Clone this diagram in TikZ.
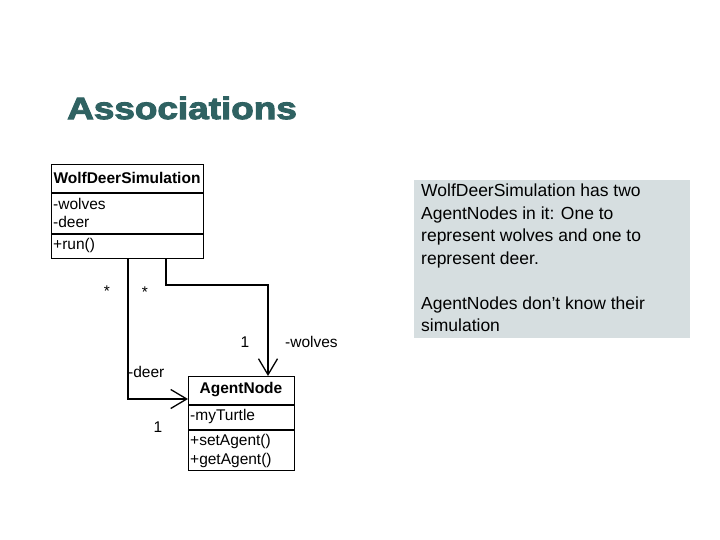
\documentclass[tikz,border=0pt]{standalone}
\usepackage{fontspec}
\setmainfont{Liberation Sans}
\newfontfamily\titlefont{Liberation Sans}[BoldFeatures={FakeBold=3}]
\usetikzlibrary{arrows.meta}
\definecolor{titlecol}{HTML}{2F6262}
\definecolor{notefill}{HTML}{D6DEE0}
\tikzset{
  classbox/.style={draw=black, line width=1.4pt, anchor=north west, inner sep=0pt},
  umltext/.style={font=\fontsize{15.5}{17}\selectfont, anchor=west, inner sep=0pt},
  umlhead/.style={font=\fontsize{15.5}{17}\selectfont\bfseries, inner sep=0pt},
  assoc/.style={line width=1.3pt, -{Straight Barb[length=16pt,width=19pt,line width=1.3pt]}},
  mult/.style={font=\fontsize{15.5}{17}\selectfont, inner sep=0pt},
  notetext/.style={font=\fontsize{17.5}{22.5}\selectfont, align=left, anchor=north west, inner sep=0pt}
}
\begin{document}
\begin{tikzpicture}[x=1pt,y=-1pt]
\path[use as bounding box, fill=white] (0,0) rectangle (720,540);
% title
\node[anchor=west, inner sep=0pt, text=titlecol, font=\titlefont\fontsize{31}{34}\bfseries, xscale=1.19] (title) at (67,108) {Associations};
% WolfDeerSimulation class
\node[classbox, minimum width=152pt, minimum height=94pt] (wds) at (51,164) {};
\coordinate (wdsA) at (51,193);
\coordinate (wdsB) at (203,193);
\coordinate (wdsC) at (51,234);
\coordinate (wdsD) at (203,234);
\draw[line width=1.2pt] (wdsA) -- (wdsB) (wdsC) -- (wdsD);
\node[umlhead] (wdsname) at (127,178) {WolfDeerSimulation};
\node[umltext] (wdsa1) at (53,203.5) {-wolves};
\node[umltext] (wdsa2) at (53,222) {-deer};
\node[umltext] (wdsm1) at (53,245) {+run()};
% AgentNode class
\node[classbox, minimum width=106pt, minimum height=94pt] (an) at (188,376) {};
\coordinate (anA) at (188,405);
\coordinate (anB) at (294,405);
\coordinate (anC) at (188,430);
\coordinate (anD) at (294,430);
\draw[line width=1.2pt] (anA) -- (anB) (anC) -- (anD);
\node[umlhead] (anname) at (241,390) {AgentNode};
\node[umltext] (ana1) at (190,416) {-myTurtle};
\node[umltext] (anm1) at (190,441) {+setAgent()};
\node[umltext] (anm2) at (190,460) {+getAgent()};
% associations
\coordinate (deerstart) at (128,258);
\coordinate (deerbend) at (128,399);
\coordinate (deerend) at (188,399);
\draw[assoc] (deerstart) -- (deerbend) -- (deerend);
\coordinate (wolfstart) at (166,258);
\coordinate (wolfb1) at (166,285);
\coordinate (wolfb2) at (268,285);
\coordinate (wolfend) at (268,376);
\draw[assoc] (wolfstart) -- (wolfb1) -- (wolfb2) -- (wolfend);
% multiplicities and roles
\node[mult] (star1) at (107,291) {*};
\node[mult] (star2) at (145,292) {*};
\node[mult] (one1) at (245,342) {1};
\node[mult, anchor=west] (wolvesrole) at (285,342) {-wolves};
\node[mult, anchor=west] (deerrole) at (128,372) {-deer};
\node[mult] (one2) at (158,427) {1};
% note
\node[fill=notefill, anchor=north west, minimum width=276pt, minimum height=158pt, inner sep=0pt] (note) at (414,180) {};
\node[notetext] (notetext) at (421,184) {WolfDeerSimulation has two\\AgentNodes in it: One to\\represent wolves and one to\\represent deer.\\[22.5pt]AgentNodes don't know their\\simulation};
\end{tikzpicture}
\end{document}
